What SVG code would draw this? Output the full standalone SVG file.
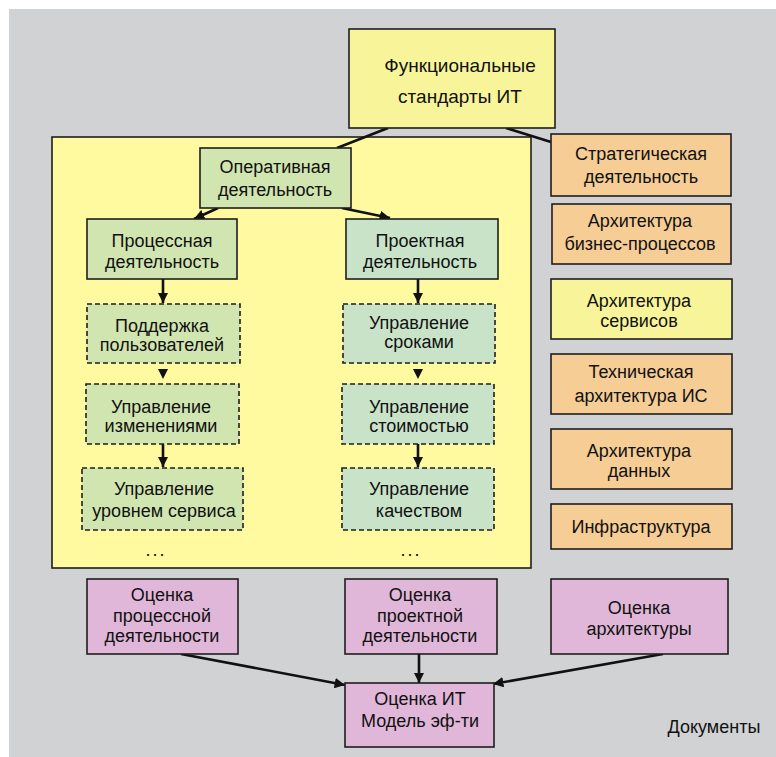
<svg xmlns="http://www.w3.org/2000/svg" width="776" height="757" viewBox="0 0 776 757">
<defs>
<style>
.b{stroke:#1e1e1e;stroke-width:1.6}
.d{stroke-dasharray:5 3}
.y{fill:#fff99f}
.yt{fill:#f8f49a}
.g{fill:#d1e5b0}
.m{fill:#c9e3c9}
.o{fill:#f6cd95}
.p{fill:#e0b7d8}
text{font-family:"Liberation Sans","DejaVu Sans",sans-serif;font-size:18px;fill:#111;text-anchor:middle}
.big{font-size:19px}
.dots{letter-spacing:2px}
.c{stroke:#111;stroke-width:2.6;fill:none}
</style>
<marker id="ah" viewBox="0 0 10 10" refX="10" refY="5" markerWidth="4" markerHeight="4" markerUnits="strokeWidth" orient="auto">
<path d="M0,0L10,5L0,10z" fill="#111"/>
</marker>
</defs>
<rect x="0" y="0" width="776" height="757" fill="#ffffff"/>
<rect x="9" y="9" width="767" height="748" fill="#d1d2d4"/>

<g id="container">
<rect class="b y" x="52" y="137" width="479" height="431"/>
</g>

<g id="connectors">
<line class="c" x1="388" y1="128" x2="337" y2="148"/>
<line class="c" x1="506" y1="128" x2="551" y2="142"/>
<line class="c" x1="218" y1="208" x2="194" y2="219" marker-end="url(#ah)"/>
<line class="c" x1="342" y1="208" x2="390" y2="218" marker-end="url(#ah)"/>
<line class="c" x1="163" y1="279" x2="163" y2="303" marker-end="url(#ah)"/>
<line class="c" x1="418" y1="279" x2="418" y2="303" marker-end="url(#ah)"/>
<path d="M158,369L168,369L163,379z" fill="#111"/>
<path d="M413,369L423,369L418,379z" fill="#111"/>
<line class="c" x1="163" y1="444" x2="163" y2="467" marker-end="url(#ah)"/>
<line class="c" x1="418" y1="444" x2="418" y2="467" marker-end="url(#ah)"/>
<line class="c" x1="181" y1="654" x2="345" y2="685" marker-end="url(#ah)"/>
<line class="c" x1="419" y1="654" x2="419" y2="683" marker-end="url(#ah)"/>
<line class="c" x1="663" y1="654" x2="493" y2="684" marker-end="url(#ah)"/>
</g>

<g id="n-func">
<rect class="b yt" x="349" y="29" width="206" height="99"/>
<text class="big" x="460" y="72">Функциональные</text>
<text class="big" x="460" y="103">стандарты ИТ</text>
</g>
<g id="n-oper">
<rect class="b g" x="200" y="148" width="151" height="60"/>
<text x="275" y="173">Оперативная</text>
<text x="275" y="196">деятельность</text>
</g>
<g id="n-proc">
<rect class="b g" x="87" y="219" width="150" height="60"/>
<text x="162" y="247">Процессная</text>
<text x="162" y="268">деятельность</text>
</g>
<g id="n-proj">
<rect class="b m" x="346" y="219" width="152" height="60"/>
<text x="420" y="247">Проектная</text>
<text x="420" y="268">деятельность</text>
</g>
<g id="n-support">
<rect class="b d g" x="87" y="304" width="153" height="59"/>
<text x="162" y="332">Поддержка</text>
<text x="162" y="351">пользователей</text>
</g>
<g id="n-change">
<rect class="b d g" x="86" y="384" width="153" height="60"/>
<text x="161" y="413">Управление</text>
<text x="161" y="432">изменениями</text>
</g>
<g id="n-sla">
<rect class="b d g" x="82" y="468" width="161" height="62"/>
<text x="164" y="495">Управление</text>
<text x="164" y="517">уровнем сервиса</text>
</g>
<text class="dots" x="156" y="556">...</text>
<g id="n-time">
<rect class="b d m" x="343" y="304" width="152" height="59"/>
<text x="419" y="329">Управление</text>
<text x="419" y="348">сроками</text>
</g>
<g id="n-cost">
<rect class="b d m" x="342" y="384" width="152" height="60"/>
<text x="419" y="413">Управление</text>
<text x="419" y="432">стоимостью</text>
</g>
<g id="n-quality">
<rect class="b d m" x="342" y="468" width="152" height="62"/>
<text x="419" y="495">Управление</text>
<text x="419" y="517">качеством</text>
</g>
<text class="dots" x="411" y="556">...</text>

<g id="n-strat">
<rect class="b o" x="551" y="134" width="180" height="62"/>
<text x="641" y="160">Стратегическая</text>
<text x="641" y="183">деятельность</text>
</g>
<g id="n-bpa">
<rect class="b o" x="552" y="204" width="179" height="60"/>
<text x="640" y="227">Архитектура</text>
<text x="640" y="250">бизнес-процессов</text>
</g>
<g id="n-svc">
<rect class="b yt" x="551" y="279" width="181" height="60"/>
<text x="639" y="307">Архитектура</text>
<text x="639" y="327">сервисов</text>
</g>
<g id="n-tech">
<rect class="b o" x="551" y="354" width="181" height="60"/>
<text x="641" y="378">Техническая</text>
<text x="641" y="402">архитектура ИС</text>
</g>
<g id="n-data">
<rect class="b o" x="551" y="429" width="181" height="60"/>
<text x="639" y="457">Архитектура</text>
<text x="639" y="477">данных</text>
</g>
<g id="n-infra">
<rect class="b o" x="551" y="504" width="181" height="45"/>
<text x="641" y="533">Инфраструктура</text>
</g>

<g id="n-evproc">
<rect class="b p" x="87" y="579" width="151" height="75"/>
<text x="162" y="601">Оценка</text>
<text x="162" y="622">процессной</text>
<text x="162" y="642">деятельности</text>
</g>
<g id="n-evproj">
<rect class="b p" x="345" y="579" width="152" height="75"/>
<text x="420" y="601">Оценка</text>
<text x="420" y="622">проектной</text>
<text x="420" y="642">деятельности</text>
</g>
<g id="n-evarch">
<rect class="b p" x="551" y="579" width="177" height="75"/>
<text x="639" y="614">Оценка</text>
<text x="639" y="635">архитектуры</text>
</g>
<g id="n-evit">
<rect class="b p" x="345" y="683" width="149" height="64"/>
<text x="420" y="705">Оценка ИТ</text>
<text x="420" y="727">Модель эф-ти</text>
</g>
<text x="714" y="733">Документы</text>
</svg>
